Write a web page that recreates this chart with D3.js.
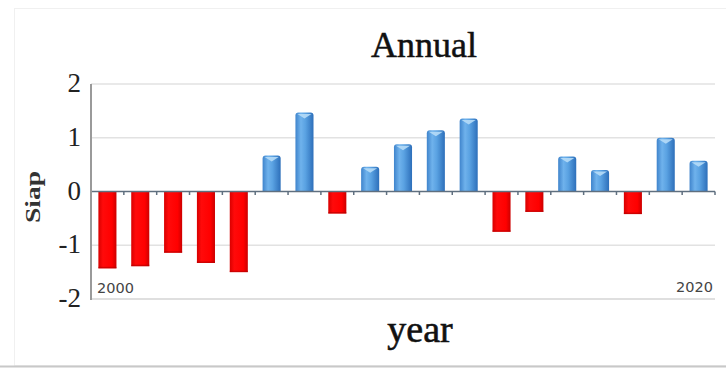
<!DOCTYPE html>
<html>
<head>
<meta charset="utf-8">
<script src="https://cdn.jsdelivr.net/npm/d3@7"></script>
<style>
  html, body { margin: 0; padding: 0; background: #fff; }
  svg { display: block; }
</style>
</head>
<body>
<svg id="chart" width="726" height="369"></svg>
<script>
// Annual SIAP index, one bar per year
const years = [2000, 2001, 2002, 2003, 2004, 2005, 2006, 2007, 2008, 2009,
               2010, 2011, 2012, 2013, 2014, 2015, 2016, 2017, 2018];
const siap = [-1.43, -1.39, -1.14, -1.33, -1.50, 0.67, 1.47, -0.41, 0.46, 0.88,
              1.14, 1.36, -0.75, -0.38, 0.65, 0.40, -0.42, 1.00, 0.57];
const yTicks = [-2, -1, 0, 1, 2];
const cornerLabels = ["2000", "2020"];

(function () {
const svg = d3.select("#chart");
const plotLeft = 91, plotRight = 715, plotTop = 84, plotBottom = 299;

// Faint panel frame
svg.append("rect").attr("x", 14.5).attr("y", 8.5).attr("width", 720).attr("height", 357)
  .attr("fill", "none").attr("stroke", "#f0f0f0").attr("stroke-width", 1);
svg.append("line").attr("x1", 0).attr("x2", 726).attr("y1", 366.5).attr("y2", 366.5)
  .attr("stroke", "#c8c8c8").attr("stroke-width", 2);

const x = d3.scaleBand().domain(years).range([plotLeft, plotRight]).paddingInner(0.45).paddingOuter(0.225);
const y = d3.scaleLinear().domain([-2, 2]).range([plotBottom, plotTop]);

const defs = svg.append("defs");
const blue = defs.append("linearGradient").attr("id", "blueGrad").attr("x1", 0).attr("x2", 1).attr("y1", 0).attr("y2", 0);
[[0, "#3f84cc"], [0.3, "#6fb2ec"], [0.55, "#5aa2e2"], [1, "#2d6fba"]].forEach(([o, c]) =>
  blue.append("stop").attr("offset", o).attr("stop-color", c));
const red = defs.append("linearGradient").attr("id", "redGrad").attr("x1", 0).attr("x2", 1).attr("y1", 0).attr("y2", 0);
[[0, "#d80000"], [0.25, "#ff0a0a"], [0.75, "#ff0000"], [1, "#cc0000"]].forEach(([o, c]) =>
  red.append("stop").attr("offset", o).attr("stop-color", c));

// Horizontal gridlines
svg.append("g").selectAll("line").data(yTicks.filter(t => t !== 0)).join("line")
  .attr("x1", plotLeft).attr("x2", plotRight)
  .attr("y1", d => y(d)).attr("y2", d => y(d))
  .attr("stroke", d => d === -2 ? "#d4d4d4" : "#e2e2e2").attr("stroke-width", 1.5);

// Bars
const bars = svg.append("g");
years.forEach((yr, i) => {
  const v = siap[i];
  const bx = x(yr), bw = x.bandwidth();
  const y0 = y(0), y1 = y(v);
  if (v >= 0) {
    bars.append("path")
      .attr("d", `M${bx},${y0} V${y1 + 3} Q${bx},${y1} ${bx + 3},${y1} H${bx + bw - 3} Q${bx + bw},${y1} ${bx + bw},${y1 + 3} V${y0} Z`)
      .attr("fill", "url(#blueGrad)");
    // light cap on the top of the cylinder
    bars.append("path")
      .attr("d", `M${bx + 2},${y1 + 1.5} L${bx + bw / 2},${y1 + 6} L${bx + bw - 2},${y1 + 1.5} Z`)
      .attr("fill", "#b6dcf7").attr("opacity", 0.9);
  } else {
    bars.append("rect")
      .attr("x", bx).attr("y", y0).attr("width", bw).attr("height", y1 - y0)
      .attr("fill", "url(#redGrad)");
    bars.append("rect")
      .attr("x", bx).attr("y", y1 - 1.5).attr("width", bw).attr("height", 1.5)
      .attr("fill", "#b00000").attr("opacity", 0.6);
  }
});

// Zero axis with small ticks between bars
const zero = y(0);
svg.append("line").attr("x1", plotLeft).attr("x2", plotRight).attr("y1", zero).attr("y2", zero)
  .attr("stroke", "#5f6f7f").attr("stroke-width", 1.5);
const step = x.step();
svg.append("g").selectAll("line").data(d3.range(1, years.length + 1)).join("line")
  .attr("x1", d => plotLeft + d * step).attr("x2", d => plotLeft + d * step)
  .attr("y1", zero).attr("y2", zero + 3.5)
  .attr("stroke", "#5f6f7f").attr("stroke-width", 1.5);

// Y axis
svg.append("line").attr("x1", plotLeft).attr("x2", plotLeft).attr("y1", plotTop).attr("y2", plotBottom + 1)
  .attr("stroke", "#9a9a9a").attr("stroke-width", 2);
svg.append("g").selectAll("text").data(yTicks).join("text")
  .attr("x", 81).attr("y", d => y(d) + 8)
  .attr("text-anchor", "end")
  .attr("font-family", "'Liberation Serif', 'Times New Roman', serif")
  .attr("font-size", 27).attr("fill", "#222")
  .text(d => d < 0 ? "-" + Math.abs(d) : String(d));

// Corner year labels
svg.append("text").attr("x", 97).attr("y", 293)
  .attr("font-family", "'DejaVu Sans', sans-serif").attr("font-size", 14.5).attr("fill", "#444")
  .text(cornerLabels[0]);
svg.append("text").attr("x", 713).attr("y", 292).attr("text-anchor", "end")
  .attr("font-family", "'DejaVu Sans', sans-serif").attr("font-size", 14.5).attr("fill", "#444")
  .text(cornerLabels[1]);

// Titles
svg.append("text").attr("x", 424).attr("y", 57).attr("text-anchor", "middle")
  .attr("font-family", "'Liberation Serif', 'Times New Roman', serif")
  .attr("font-size", 36).attr("fill", "#111").attr("stroke", "#111").attr("stroke-width", 0.5)
  .text("Annual");
svg.append("text").attr("x", 420).attr("y", 342).attr("text-anchor", "middle")
  .attr("font-family", "'Liberation Serif', 'Times New Roman', serif")
  .attr("font-size", 38).attr("fill", "#111").attr("stroke", "#111").attr("stroke-width", 0.6)
  .text("year");
svg.append("text")
  .attr("transform", "translate(40,197) rotate(-90)")
  .attr("text-anchor", "middle")
  .attr("font-family", "'Liberation Serif', 'Times New Roman', serif")
  .attr("font-size", 20).attr("font-weight", "bold").attr("fill", "#333")
  .attr("textLength", 52).attr("lengthAdjust", "spacingAndGlyphs")
  .text("Siap");
})();
</script>
</body>
</html>
